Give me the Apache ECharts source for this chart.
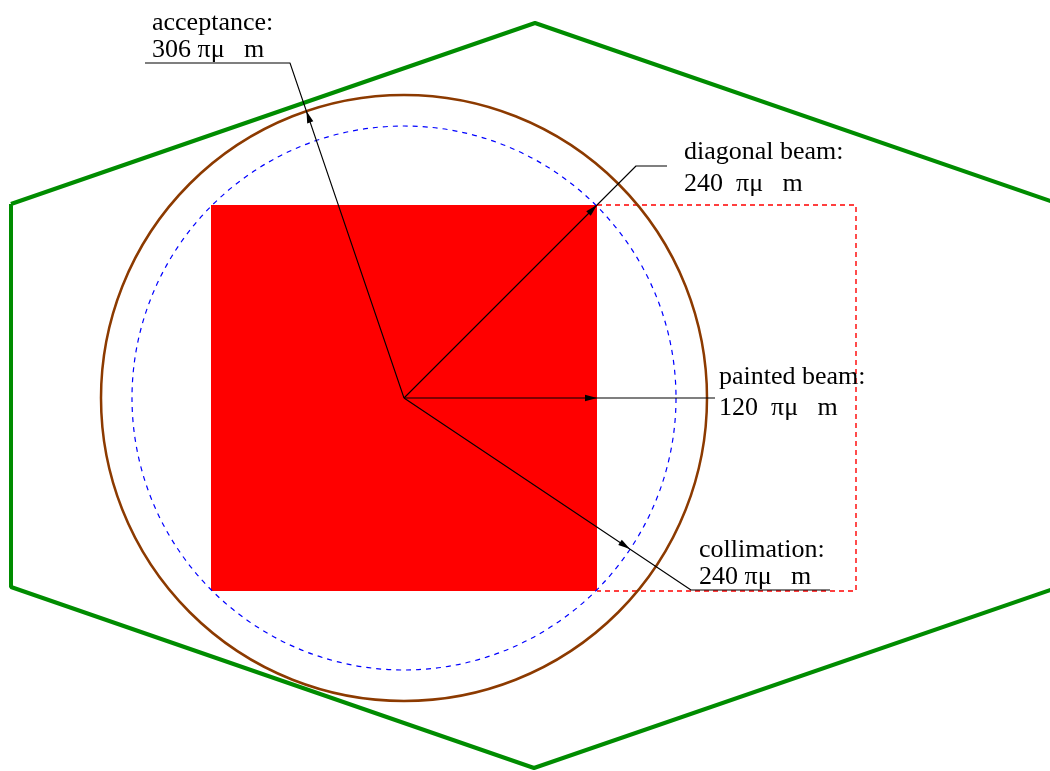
<!DOCTYPE html>
<html><head><meta charset="utf-8">
<script src="https://cdn.jsdelivr.net/npm/echarts@6/dist/echarts.min.js"></script>
<style>html,body{margin:0;padding:0;background:#fff}#c{width:1050px;height:771px}</style>
</head><body><div id="c"></div>
<script>
// Diagram units: beam centre at origin, y upwards
const beamCenter = [0, 0];
const paintedSquare = [[-19.3, -19.3], [19.3, -19.3], [19.3, 19.3], [-19.3, 19.3]];
const diagonalBox = [[19.3, 19.3], [45.2, 19.3], [45.2, -19.3], [19.3, -19.3]];
const circles = [[0, 0, 27.2], [0, 0, 30.3]]; // collimation (blue dashed), acceptance (brown)
const hexagon = [[-39.3, 19.4], [13.1, 37.5], [65.5, 19.4], [65.5, -18.9], [13.0, -37.0], [-39.3, -18.9], [-39.3, 19.4]];

const leaderAcceptance = [[0, 0], [-11.4, 33.5], [-25.9, 33.5]];
const leaderDiagonal = [[0, 0], [23.2, 23.2], [26.3, 23.2]];
const leaderPainted = [[0, 0], [31.1, 0]];
const leaderCollimation = [[0, 0], [28.7, -19.2], [42.6, -19.2]];
const arrowTips = [[-9.76, 28.7], [19.3, 19.3], [19.3, 0], [22.6, -15.1]];

const labelTexts = ['acceptance:', '306 πμ   m', 'diagonal beam:', '240  πμ   m',
  'painted beam:', '120  πμ   m', 'collimation:', '240 πμ   m'];
const labelPositions = [[-25.2, 37.5], [-25.2, 34.8], [28.0, 24.6], [28.0, 21.4],
  [31.5, 2.1], [31.5, -1.0], [29.5, -15.2], [29.5, -17.9]];

const chart = echarts.init(document.getElementById('c'), null, {renderer: 'canvas'});

function lineSeries(data, color, width, type, z) {
  return {type: 'line', data: data, symbol: 'none', silent: true, z: z, animation: false,
    lineStyle: {color: color, width: width, type: type}};
}

chart.setOption({
  animation: false,
  grid: {left: 0, right: 0, top: 0, bottom: 0},
  xAxis: {type: 'value', min: -40.4, max: 64.6, show: false},
  yAxis: {type: 'value', min: -37.3, max: 39.8, show: false},
  series: [
    {type: 'custom', z: 2, silent: true, data: [beamCenter],
      renderItem: function (params, api) {
        return {type: 'polygon', shape: {points: paintedSquare.map(p => api.coord(p))},
          style: {fill: '#ff0000', stroke: null}};
      }},
    lineSeries(diagonalBox, '#ff0000', 1.4, [5, 4], 3),
    {type: 'custom', z: 4, silent: true, data: circles,
      renderItem: function (params, api) {
        const c = api.coord([api.value(0), api.value(1)]);
        const r = api.size([api.value(2), 0])[0];
        const blue = params.dataIndex === 0;
        return {type: 'circle', shape: {cx: c[0], cy: c[1], r: r},
          style: {fill: 'none', stroke: blue ? '#0000ff' : '#8c3a00', lineWidth: blue ? 1.2 : 2.5,
            lineDash: blue ? [5, 5] : null}};
      }},
    lineSeries(hexagon, '#008c00', 4, 'solid', 5),
    lineSeries(leaderAcceptance, '#000', 1.1, 'solid', 6),
    lineSeries(leaderDiagonal, '#000', 1.1, 'solid', 6),
    lineSeries(leaderPainted, '#000', 1.1, 'solid', 6),
    lineSeries(leaderCollimation, '#000', 1.1, 'solid', 6),
    {type: 'custom', z: 7, silent: true, data: arrowTips,
      renderItem: function (params, api) {
        const tip = api.coord([api.value(0), api.value(1)]);
        const start = api.coord(beamCenter);
        let dx = tip[0] - start[0], dy = tip[1] - start[1];
        const len = Math.sqrt(dx * dx + dy * dy); dx /= len; dy /= len;
        const L = 12, W = 3.2;
        const bx = tip[0] - dx * L, by = tip[1] - dy * L;
        return {type: 'polygon', shape: {points: [tip, [bx - dy * W, by + dx * W], [bx + dy * W, by - dx * W]]},
          style: {fill: '#000', stroke: null}};
      }},
    {type: 'custom', z: 8, silent: true, data: labelPositions,
      renderItem: function (params, api) {
        const p = api.coord([api.value(0), api.value(1)]);
        return {type: 'text', x: p[0], y: p[1],
          style: {text: labelTexts[params.dataIndex], font: '26px "Liberation Serif"', fill: '#000',
            align: 'left', verticalAlign: 'middle'}};
      }}
  ]
});
</script></body></html>
